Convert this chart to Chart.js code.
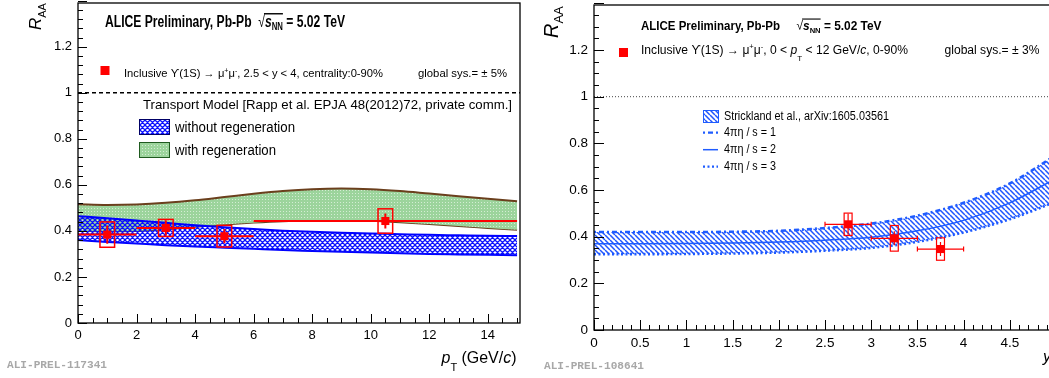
<!DOCTYPE html>
<html>
<head>
<meta charset="utf-8">
<script src="https://cdn.jsdelivr.net/npm/chart.js@4.4.0/dist/chart.umd.min.js"></script>
<style>
  html, body { margin: 0; padding: 0; background: #fff; overflow: hidden; width: 1049px; height: 378px; }
  #c1 { position: absolute; left: 0; top: 0; }
  #c2 { position: absolute; left: 530px; top: 0; }
</style>
</head>
<body>
<canvas id="c1" width="530" height="378"></canvas>
<canvas id="c2" width="540" height="378"></canvas>
<script>
const FONT = '"Liberation Sans", Arial, Helvetica, "DejaVu Sans", sans-serif';

// ---- left panel: R_AA vs pT ----
const ptCenter = [1, 3, 5, 10.5];
const ptLow = [0, 2, 4, 6];
const ptHigh = [2, 4, 6, 15];
const raaPt = [0.384, 0.413, 0.377, 0.443];
const statPt = [0.040, 0.033, 0.031, 0.033];
const sysPt = [0.055, 0.037, 0.047, 0.053];

const modelPt = [0, 1, 2, 3, 4, 5, 6, 7, 8, 9, 10, 11, 12, 13, 14, 15];
const regenHigh = [0.516, 0.513, 0.515, 0.522, 0.533, 0.547, 0.561, 0.573, 0.581, 0.584, 0.581, 0.573, 0.562, 0.551, 0.540, 0.529];
const regenLow = [0.400, 0.398, 0.400, 0.407, 0.418, 0.428, 0.436, 0.442, 0.445, 0.446, 0.444, 0.438, 0.430, 0.421, 0.413, 0.405];
const noRegenHigh = [0.464, 0.455, 0.445, 0.435, 0.425, 0.416, 0.408, 0.401, 0.396, 0.392, 0.389, 0.386, 0.383, 0.381, 0.379, 0.378];
const noRegenLow = [0.360, 0.352, 0.345, 0.338, 0.332, 0.327, 0.322, 0.317, 0.313, 0.309, 0.306, 0.303, 0.300, 0.298, 0.296, 0.294];
const unityPt = [0, 15.1];

// ---- right panel: R_AA vs y ----
const yCenter = [2.75, 3.25, 3.75];
const yLow = [2.5, 3.0, 3.5];
const yHigh = [3.0, 3.5, 4.0];
const raaY = [0.453, 0.393, 0.347];
const statY = [0.045, 0.030, 0.030];
const sysY = [0.048, 0.055, 0.048];

const modelY = [0, 0.5, 1, 1.5, 2, 2.5, 3, 3.5, 4, 4.5, 5];
const etaS1 = [0.420, 0.420, 0.420, 0.421, 0.425, 0.437, 0.456, 0.490, 0.545, 0.628, 0.750];
const etaS2 = [0.370, 0.370, 0.371, 0.373, 0.377, 0.385, 0.398, 0.425, 0.470, 0.545, 0.650];
const etaS3 = [0.325, 0.325, 0.326, 0.328, 0.332, 0.340, 0.352, 0.378, 0.418, 0.475, 0.550];
const unityY = [0, 5];

const unity = [1, 1];
const xy = (xs, ys) => xs.map((x, i) => ({ x, y: ys[i] }));

// fill patterns
function tile(size, draw) {
    const c = document.createElement('canvas');
    c.width = c.height = size;
    const g = c.getContext('2d');
    draw(g, size);
    return g.createPattern(c, 'repeat');
}
const crossHatch = tile(5, (g, s) => {
    g.strokeStyle = '#0a10ff';
    g.lineWidth = 1.25;
    g.beginPath();
    for (let k = -1; k <= 1; k++) {
        g.moveTo(k * s, 0); g.lineTo(k * s + s, s);
        g.moveTo(k * s + s, 0); g.lineTo(k * s, s);
    }
    g.stroke();
});
const greenFill = tile(3, (g, s) => {
    g.fillStyle = '#9cd49c';
    g.fillRect(0, 0, s, s);
    g.fillStyle = '#d4edd4';
    g.fillRect(1, 1, 1, 1);
});
const diagHatch = tile(5, (g, s) => {
    g.strokeStyle = '#1f55ff';
    g.lineWidth = 1.5;
    g.beginPath();
    for (let k = -1; k <= 1; k++) {
        g.moveTo(k * s, 0); g.lineTo(k * s + s, s);
    }
    g.stroke();
});

// text with sub/superscripts, squeezed to a width, optionally stretched in height
function rich(ctx, x, y, parts, width, olY, sy) {
    const fnt = p => `${p.st || ''} ${p.s}px ${FONT}`;
    let total = 0;
    const ws = parts.map(p => { ctx.font = fnt(p); const w = ctx.measureText(p.t).width; total += w; return w; });
    const k = width ? width / total : 1;
    ctx.save();
    ctx.translate(x, y);
    ctx.scale(k, sy || 1);
    ctx.textBaseline = 'alphabetic';
    ctx.textAlign = 'left';
    let cx = 0, o0 = null, o1 = null;
    parts.forEach((p, i) => {
        ctx.font = fnt(p);
        ctx.fillText(p.t, cx, p.dy || 0);
        if (p.ol) { if (o0 === null) o0 = cx; o1 = cx + ws[i]; }
        cx += ws[i];
    });
    if (o0 !== null) ctx.fillRect(o0 - 1, -olY, o1 - o0 + 1, 1.1);
    ctx.restore();
}

// ROOT-like frame with inward ticks
function rootAxes(o) {
    return {
        id: 'rootAxes',
        afterDraw(chart) {
            const { ctx, chartArea: a, scales: { x, y } } = chart;
            ctx.save();
            ctx.strokeStyle = '#000';
            ctx.lineWidth = o.frame;
            ctx.strokeRect(a.left, a.top, a.right - a.left, a.bottom - a.top);
            ctx.lineWidth = 1;
            ctx.beginPath();
            const ny = Math.round((y.max - y.min) / o.yMinor);
            for (let i = 0; i <= ny; i++) {
                const v = y.min + i * o.yMinor;
                const major = Math.abs(v / o.yMajor - Math.round(v / o.yMajor)) < 1e-6;
                const py = Math.round(y.getPixelForValue(v)) + 0.5;
                ctx.moveTo(a.left, py); ctx.lineTo(a.left + (major ? o.major : o.minor), py);
            }
            const nx = Math.round((x.max - x.min) / o.xMinor);
            for (let i = 0; i <= nx; i++) {
                const v = x.min + i * o.xMinor;
                const major = Math.abs(v / o.xMajor - Math.round(v / o.xMajor)) < 1e-6;
                const px = Math.round(x.getPixelForValue(v)) + 0.5;
                ctx.moveTo(px, a.bottom); ctx.lineTo(px, a.bottom - (major ? o.major : o.minor));
            }
            ctx.stroke();
            ctx.restore();
        }
    };
}

// error bars and systematic boxes
function errorBars(c) {
    return {
        id: 'errorBars',
        afterDatasetsDraw(chart) {
            const { ctx, scales: { x, y } } = chart;
            ctx.save();
            ctx.strokeStyle = '#ff0000';
            c.xc.forEach((xc, i) => {
                const px = x.getPixelForValue(xc);
                const py = y.getPixelForValue(c.yc[i]);
                const x0 = x.getPixelForValue(c.xl[i]), x1 = x.getPixelForValue(c.xh[i]);
                ctx.lineWidth = c.barW;
                ctx.beginPath();
                ctx.moveTo(x0, py); ctx.lineTo(x1, py);
                if (c.caps) {
                    ctx.moveTo(x0, py - c.caps); ctx.lineTo(x0, py + c.caps);
                    ctx.moveTo(x1, py - c.caps); ctx.lineTo(x1, py + c.caps);
                }
                const s0 = y.getPixelForValue(c.yc[i] + c.stat[i]), s1 = y.getPixelForValue(c.yc[i] - c.stat[i]);
                ctx.moveTo(px, s0); ctx.lineTo(px, s1);
                ctx.stroke();
                const b0 = x.getPixelForValue(xc - c.boxHalf), b1 = x.getPixelForValue(xc + c.boxHalf);
                const t0 = y.getPixelForValue(c.yc[i] + c.sys[i]), t1 = y.getPixelForValue(c.yc[i] - c.sys[i]);
                ctx.lineWidth = c.boxW;
                ctx.strokeRect(b0, t0, b1 - b0, t1 - t0);
            });
            ctx.restore();
        }
    };
}

function overlay(fn) {
    return { id: 'overlay', afterDraw(chart) { const ctx = chart.ctx; ctx.save(); fn(ctx); ctx.restore(); } };
}

function scale(min, max, step, size, pad) {
    return {
        type: 'linear', min, max,
        grid: { display: false, drawTicks: false },
        border: { display: false },
        ticks: {
            stepSize: step, includeBounds: false, padding: pad, color: '#000', autoSkip: false, maxRotation: 0,
            font: { family: FONT, size },
            callback: v => String(+v.toFixed(2))
        }
    };
}
// fix scale size and drop the label overhang padding so the plot area is exact
const fitY = w => s => { s.width = w; s.paddingTop = 0; s.paddingBottom = 0; };
const fitX = h => s => { s.height = h; s.paddingLeft = 0; s.paddingRight = 0; };

const band = (xs, ys, color, extra) => Object.assign({
    data: xy(xs, ys), borderColor: color, borderWidth: 2, pointRadius: 0,
    fill: false, cubicInterpolationMode: 'monotone'
}, extra);

// ---------------- left chart ----------------
const leftX = scale(0, 15.1, 2, 13, 5);
leftX.afterFit = fitX(55);
const leftY = scale(0, 1.39, 0.2, 13, 6);
leftY.afterFit = fitY(78);

new Chart(document.getElementById('c1'), {
    type: 'line',
    data: {
        datasets: [
            { type: 'scatter', data: xy(ptCenter, raaPt), pointStyle: 'rect', pointRadius: 5.7, backgroundColor: '#ff0000', borderWidth: 0, order: 0 },
            band(modelPt, noRegenHigh, '#0000ff', { fill: '+1', backgroundColor: crossHatch, order: 1 }),
            band(modelPt, noRegenLow, '#0000ff', { order: 2 }),
            band(modelPt, regenHigh, '#6b3f1d', { fill: '+1', backgroundColor: greenFill, order: 3 }),
            band(modelPt, regenLow, '#6b3f1d', { order: 4 }),
            { data: xy(unityPt, unity), borderColor: '#000', borderWidth: 1.5, borderDash: [4, 3], pointRadius: 0, fill: false, order: 5 }
        ]
    },
    options: {
        responsive: false, animation: false, events: [], devicePixelRatio: 1,
        layout: { autoPadding: false, padding: { top: 3, right: 10, bottom: 0, left: 0 } },
        scales: { x: leftX, y: leftY },
        plugins: { legend: { display: false }, tooltip: { enabled: false } }
    },
    plugins: [
        errorBars({ xc: ptCenter, xl: ptLow, xh: ptHigh, yc: raaPt, stat: statPt, sys: sysPt, boxHalf: 0.25, barW: 2, boxW: 1.5, caps: 0 }),
        rootAxes({ frame: 1.3, major: 9, minor: 5, xMajor: 2, xMinor: 0.5, yMajor: 0.2, yMinor: 0.04 }),
        overlay(ctx => {
            ctx.fillStyle = '#000';
            rich(ctx, 105, 26.5, [
                { t: 'ALICE Preliminary, Pb-Pb  ', s: 12.5, st: 'bold' },
                { t: '√', s: 12.5 },
                { t: 's', s: 12.5, st: 'italic bold', ol: true },
                { t: 'NN', s: 8, st: 'bold', dy: 2.5, ol: true },
                { t: ' = 5.02 TeV', s: 12.5, st: 'bold' }
            ], 240, 10.5, 1.28);
            ctx.fillStyle = '#ff0000';
            ctx.fillRect(100.5, 66, 9, 9);
            ctx.fillStyle = '#000';
            rich(ctx, 124, 77, [
                { t: 'Inclusive ϒ(1S) → μ', s: 11 },
                { t: '+', s: 7, dy: -4 },
                { t: 'μ', s: 11 },
                { t: '-', s: 7, dy: -4 },
                { t: ', 2.5 < y < 4, centrality:0-90%', s: 11 }
            ], 259);
            rich(ctx, 418, 77, [{ t: 'global sys.= ± 5%', s: 11 }], 89);
            rich(ctx, 143, 109, [{ t: 'Transport Model [Rapp et al. EPJA 48(2012)72, private comm.]', s: 13.5 }], 369);
            ctx.fillStyle = crossHatch;
            ctx.fillRect(139.5, 119.5, 30, 15);
            ctx.strokeStyle = '#000066'; ctx.lineWidth = 1;
            ctx.strokeRect(139.5, 119.5, 30, 15);
            ctx.fillStyle = greenFill;
            ctx.fillRect(139.5, 142.5, 30, 15);
            ctx.strokeStyle = '#1f5a1f';
            ctx.strokeRect(139.5, 142.5, 30, 15);
            ctx.fillStyle = '#000';
            rich(ctx, 175, 132, [{ t: 'without regeneration', s: 14 }], 120);
            rich(ctx, 175, 155, [{ t: 'with regeneration', s: 14 }], 101);
            // axis titles
            ctx.save();
            ctx.translate(41, 30);
            ctx.rotate(-Math.PI / 2);
            rich(ctx, 0, 0, [{ t: 'R', s: 17, st: 'italic' }, { t: 'AA', s: 11, dy: 5 }]);
            ctx.restore();
            rich(ctx, 441.5, 363, [
                { t: 'p', s: 16, st: 'italic' },
                { t: 'T', s: 11, dy: 8 },
                { t: ' (GeV/', s: 16 },
                { t: 'c', s: 16, st: 'italic' },
                { t: ')', s: 16 }
            ], 75);
            ctx.fillStyle = '#a8a8a8';
            ctx.font = `bold 11px "Liberation Mono", "DejaVu Sans Mono", monospace`;
            ctx.save(); ctx.translate(7, 368); ctx.scale(100 / ctx.measureText('ALI-PREL-117341').width, 1);
            ctx.fillText('ALI-PREL-117341', 0, 0); ctx.restore();
        })
    ]
});

// ---------------- right chart ----------------
const rightX = scale(0, 5, 0.5, 13.5, 5);
rightX.afterFit = fitX(48);
const rightY = scale(0, 1.393, 0.2, 13.5, 6);
rightY.afterFit = fitY(64);

const blue = '#1f5cff';
new Chart(document.getElementById('c2'), {
    type: 'line',
    data: {
        datasets: [
            { type: 'scatter', data: xy(yCenter, raaY), pointStyle: 'rect', pointRadius: 5.7, backgroundColor: '#ff0000', borderWidth: 0, order: 0 },
            band(modelY, etaS1, blue, { fill: '+1', backgroundColor: diagHatch, borderWidth: 2.6, borderDash: [2, 3, 5, 3], order: 2 }),
            band(modelY, etaS3, blue, { borderWidth: 2.6, borderDash: [2, 2.5], order: 3 }),
            band(modelY, etaS2, blue, { borderWidth: 1.5, order: 1 }),
            { data: xy(unityY, unity), borderColor: '#444', borderWidth: 1, borderDash: [1, 2], pointRadius: 0, fill: false, order: 5 }
        ]
    },
    options: {
        responsive: false, animation: false, events: [], devicePixelRatio: 1,
        layout: { autoPadding: false, padding: { top: 5, right: 14, bottom: 0, left: 0 } },
        scales: { x: rightX, y: rightY },
        plugins: { legend: { display: false }, tooltip: { enabled: false } }
    },
    plugins: [
        errorBars({ xc: yCenter, xl: yLow, xh: yHigh, yc: raaY, stat: statY, sys: sysY, boxHalf: 0.043, barW: 1.2, boxW: 1.2, caps: 2.5 }),
        rootAxes({ frame: 1.3, major: 10, minor: 5, xMajor: 0.5, xMinor: 0.1, yMajor: 0.2, yMinor: 0.05 }),
        overlay(ctx => {
            ctx.fillStyle = '#000';
            rich(ctx, 111, 29.5, [{ t: 'ALICE Preliminary, Pb-Pb', s: 12.5, st: 'bold' }], 139);
            rich(ctx, 266.5, 29.5, [
                { t: '√', s: 12.5 },
                { t: 's', s: 12.5, st: 'italic bold', ol: true },
                { t: 'NN', s: 8, st: 'bold', dy: 3, ol: true },
                { t: ' = 5.02 TeV', s: 12.5, st: 'bold' }
            ], 85, 11);
            ctx.fillStyle = '#ff0000';
            ctx.fillRect(89, 48, 9, 9);
            ctx.fillStyle = '#000';
            rich(ctx, 111, 53.5, [
                { t: 'Inclusive ϒ(1S) → μ', s: 12 },
                { t: '+', s: 7.5, dy: -4.5 },
                { t: 'μ', s: 12 },
                { t: '-', s: 7.5, dy: -4.5 },
                { t: ', 0 < ', s: 12 },
                { t: 'p', s: 12, st: 'italic' },
                { t: 'T', s: 8, dy: 7 },
                { t: ' < 12 GeV/', s: 12 },
                { t: 'c', s: 12, st: 'italic' },
                { t: ', 0-90%', s: 12 }
            ], 267);
            rich(ctx, 414.5, 53.5, [{ t: 'global sys.= ± 3%', s: 12 }], 95);
            // model legend
            ctx.fillStyle = diagHatch;
            ctx.fillRect(173.5, 110.5, 15, 12);
            ctx.strokeStyle = blue; ctx.lineWidth = 1;
            ctx.strokeRect(173.5, 110.5, 15, 12);
            ctx.fillStyle = '#000';
            rich(ctx, 194, 119.5, [{ t: 'Strickland et al., arXiv:1605.03561', s: 12 }], 165);
            const styles = [[2, 3, 5, 3], [], [2, 2.5]];
            const widths = [2.2, 1.5, 2.2];
            ['1', '2', '3'].forEach((v, i) => {
                const ly = 132.7 + i * 17;
                ctx.strokeStyle = blue;
                ctx.lineWidth = widths[i];
                ctx.setLineDash(styles[i]);
                ctx.beginPath(); ctx.moveTo(173, ly); ctx.lineTo(188, ly); ctx.stroke();
                ctx.setLineDash([]);
                rich(ctx, 194, ly + 3.3, [{ t: '4πη / s = ' + v, s: 12 }], 52);
            });
            // axis titles
            ctx.save();
            ctx.translate(28, 38);
            ctx.rotate(-Math.PI / 2);
            rich(ctx, 0, 0, [{ t: 'R', s: 20, st: 'italic' }, { t: 'AA', s: 13, dy: 5 }]);
            ctx.restore();
            rich(ctx, 513, 361.5, [{ t: 'y', s: 16, st: 'italic' }]);
            ctx.fillStyle = '#a8a8a8';
            ctx.font = `bold 11px "Liberation Mono", "DejaVu Sans Mono", monospace`;
            ctx.save(); ctx.translate(14, 369); ctx.scale(100 / ctx.measureText('ALI-PREL-108641').width, 1);
            ctx.fillText('ALI-PREL-108641', 0, 0); ctx.restore();
        })
    ]
});
</script>
</body>
</html>
